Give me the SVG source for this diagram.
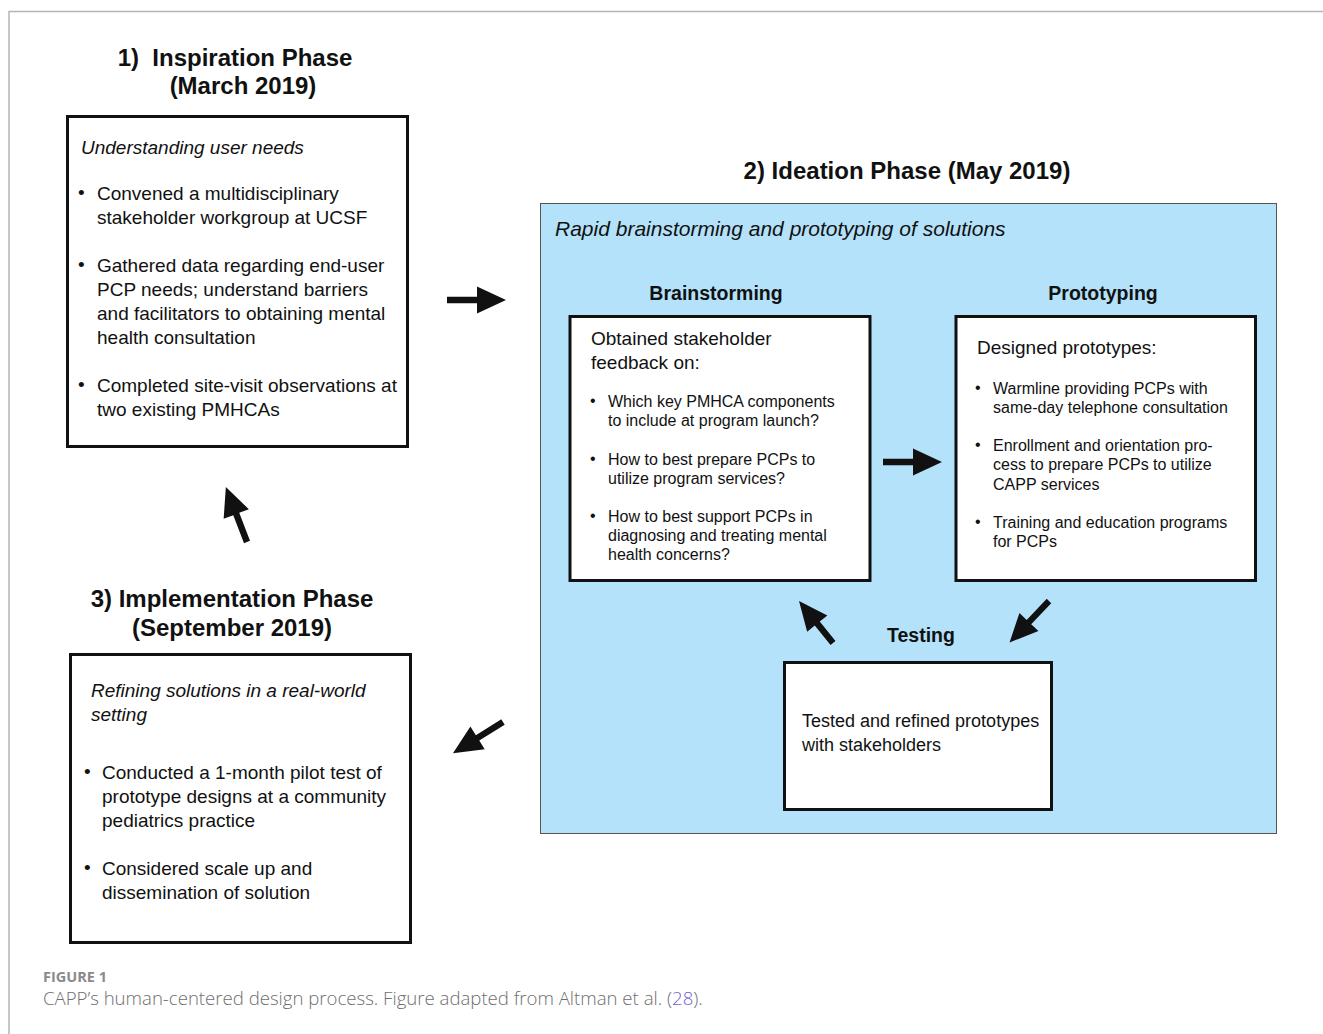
<svg xmlns="http://www.w3.org/2000/svg" width="1323" height="1034" viewBox="0 0 1323 1034">
<style>
.t{font-family:"Liberation Sans",Arial,Helvetica,sans-serif;fill:#111}
.title{font-size:24px;font-weight:bold;text-anchor:middle}
.sub{font-size:19.5px;font-weight:bold;text-anchor:middle}
.b{font-size:19px}
.i{font-size:19px;font-style:italic}
.s{font-size:16px}
.box{fill:#fff;stroke:#111;stroke-width:3}
.arr{fill:#111}
.cap{font-family:"Open Sans","Lato",sans-serif}
</style>
<defs>
<path id="a59" d="M0,-3.2 L30,-3.2 L30,-13.5 L59,0 L30,13.5 L30,3.2 L0,3.2 Z"/>
<path id="a54" d="M0,-3.2 L25,-3.2 L25,-13 L54,0 L25,13 L25,3.2 L0,3.2 Z"/>
</defs>
<rect width="1323" height="1034" fill="#fff"/>
<g id="frame" fill="none" stroke="#b5b5b5" stroke-width="1.5">
<path d="M9,1034 L9,11.5 L1323,11.5"/>
</g>

<g id="inspiration">
<text class="t title" x="235" y="66" xml:space="preserve">1)  Inspiration Phase</text>
<text class="t title" x="243" y="94">(March 2019)</text>
<rect class="box" x="67.5" y="116.5" width="340" height="330"/>
<text class="t i" x="81" y="154">Understanding user needs</text>
<text class="t b" x="78" y="199">•</text>
<text class="t b" x="97" y="200">Convened a multidisciplinary</text>
<text class="t b" x="97" y="224">stakeholder workgroup at UCSF</text>
<text class="t b" x="78" y="271">•</text>
<text class="t b" x="97" y="272">Gathered data regarding end-user</text>
<text class="t b" x="97" y="296">PCP needs; understand barriers</text>
<text class="t b" x="97" y="320">and facilitators to obtaining mental</text>
<text class="t b" x="97" y="344">health consultation</text>
<text class="t b" x="78" y="391">•</text>
<text class="t b" x="97" y="392">Completed site-visit observations at</text>
<text class="t b" x="97" y="416">two existing PMHCAs</text>
</g>

<g id="ideation">
<text class="t title" x="907" y="179">2) Ideation Phase (May 2019)</text>
<rect x="540.5" y="203.5" width="736" height="630" fill="#b4e2fa" stroke="#555" stroke-width="1"/>
<text class="t i" x="555" y="236" style="font-size:21px">Rapid brainstorming and prototyping of solutions</text>
</g>

<g id="brainstorming">
<text class="t sub" x="716" y="300">Brainstorming</text>
<rect class="box" x="570" y="316.5" width="300" height="264"/>
<text class="t b" x="591" y="345">Obtained stakeholder</text>
<text class="t b" x="591" y="369">feedback on:</text>
<text class="t s" x="590" y="406">•</text>
<text class="t s" x="608" y="407">Which key PMHCA components</text>
<text class="t s" x="608" y="426">to include at program launch?</text>
<text class="t s" x="590" y="464">•</text>
<text class="t s" x="608" y="465">How to best prepare PCPs to</text>
<text class="t s" x="608" y="484">utilize program services?</text>
<text class="t s" x="590" y="521">•</text>
<text class="t s" x="608" y="522">How to best support PCPs in</text>
<text class="t s" x="608" y="541">diagnosing and treating mental</text>
<text class="t s" x="608" y="560">health concerns?</text>
</g>

<g id="prototyping">
<text class="t sub" x="1103" y="300">Prototyping</text>
<rect class="box" x="956" y="316.5" width="299.5" height="264"/>
<text class="t b" x="977" y="354">Designed prototypes:</text>
<text class="t s" x="975" y="393">•</text>
<text class="t s" x="993" y="394">Warmline providing PCPs with</text>
<text class="t s" x="993" y="413">same-day telephone consultation</text>
<text class="t s" x="975" y="450">•</text>
<text class="t s" x="993" y="451">Enrollment and orientation pro-</text>
<text class="t s" x="993" y="470">cess to prepare PCPs to utilize</text>
<text class="t s" x="993" y="490">CAPP services</text>
<text class="t s" x="975" y="527">•</text>
<text class="t s" x="993" y="528">Training and education programs</text>
<text class="t s" x="993" y="547">for PCPs</text>
</g>

<g id="testing">
<text class="t sub" x="921" y="642">Testing</text>
<rect class="box" x="784.5" y="662.5" width="267" height="147"/>
<text class="t" font-size="18" x="802" y="727">Tested and refined prototypes</text>
<text class="t" font-size="18" x="802" y="751">with stakeholders</text>
</g>

<g id="implementation">
<text class="t title" x="232" y="607">3) Implementation Phase</text>
<text class="t title" x="232" y="636">(September 2019)</text>
<rect class="box" x="70.5" y="654.5" width="340" height="288"/>
<text class="t i" x="91" y="697">Refining solutions in a real-world</text>
<text class="t i" x="91" y="721">setting</text>
<text class="t b" x="84" y="778">•</text>
<text class="t b" x="102" y="779">Conducted a 1-month pilot test of</text>
<text class="t b" x="102" y="803">prototype designs at a community</text>
<text class="t b" x="102" y="827">pediatrics practice</text>
<text class="t b" x="84" y="874">•</text>
<text class="t b" x="102" y="875">Considered scale up and</text>
<text class="t b" x="102" y="899">dissemination of solution</text>
</g>

<g id="connectors" class="arr">
<use href="#a59" transform="translate(447,300)"/>
<use href="#a59" transform="translate(883,462)"/>
<use href="#a54" transform="translate(833,643) rotate(-129)"/>
<use href="#a59" transform="translate(1049,601) rotate(133.6) scale(0.97)"/>
<use href="#a59" transform="translate(503,722) rotate(148)"/>
<use href="#a59" transform="translate(247,542) rotate(-111)"/>
</g>

<g id="caption">
<text class="cap" x="43" y="982" font-size="14.5" font-weight="bold" fill="#8a8a8a">FIGURE 1</text>
<text class="cap" x="43" y="1005" font-size="18.6" fill="#6e6e6e" font-weight="300">CAPP’s human-centered design process. Figure adapted from Altman et al. (<tspan fill="#6b63d6">28</tspan>).</text>
</g>
</svg>
